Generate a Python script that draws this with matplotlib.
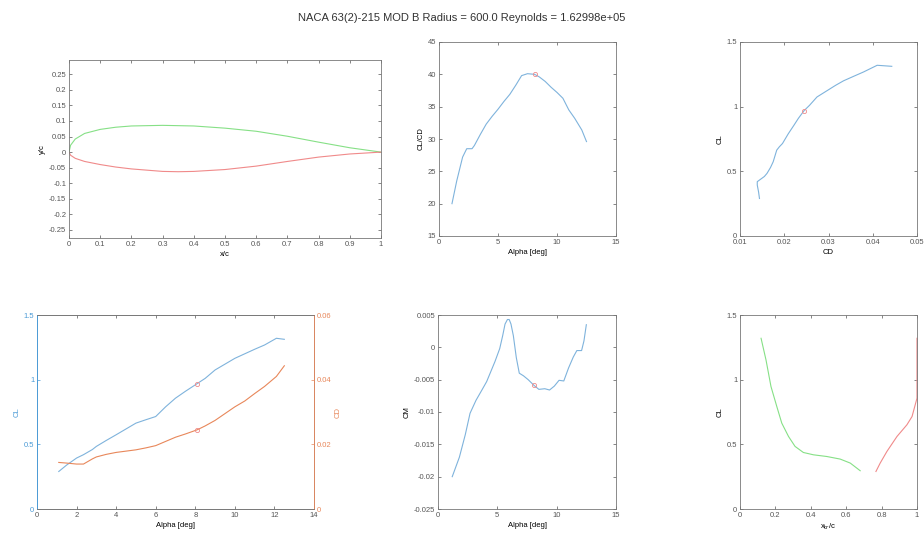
import numpy as np
import matplotlib
matplotlib.use("Agg")
import matplotlib.pyplot as plt

plt.rcParams['font.family'] = ['Liberation Sans', 'DejaVu Sans']

# airfoil shape
x_up = [0.0, 0.005, 0.02, 0.05, 0.1, 0.15, 0.2, 0.3, 0.4, 0.5, 0.6, 0.7, 0.8, 0.9, 1.0]
y_up = [0.0, 0.022, 0.042, 0.060, 0.073, 0.080, 0.084, 0.086, 0.084, 0.077, 0.067, 0.051, 0.032, 0.014, 0.0]
x_lo = [0.0, 0.005, 0.02, 0.05, 0.1, 0.15, 0.2, 0.3, 0.35, 0.4, 0.5, 0.6, 0.7, 0.8, 0.9, 1.0]
y_lo = [0.0, -0.010, -0.020, -0.030, -0.040, -0.048, -0.054, -0.062, -0.063, -0.062, -0.056, -0.045, -0.030, -0.016, -0.006, 0.0]

# polar data
alpha = [1.1, 1.5, 2.0, 2.35, 2.8, 3.0, 3.5, 4.0, 4.5, 5.0, 5.5, 6.0, 6.5, 7.0, 7.5, 8.1,
         8.5, 9.0, 9.5, 10.0, 10.5, 11.0, 11.5, 12.1, 12.5]
cl = [0.29, 0.34, 0.394, 0.42, 0.46, 0.484, 0.53, 0.574, 0.619, 0.664, 0.69, 0.715, 0.79, 0.857,
      0.91, 0.97, 1.01, 1.075, 1.12, 1.165, 1.20, 1.235, 1.268, 1.32, 1.312]
cd = [0.0144, 0.0142, 0.0139, 0.0139, 0.0155, 0.0161, 0.0169, 0.0175, 0.0179, 0.0183, 0.0189, 0.0196,
      0.0209, 0.0222, 0.0232, 0.0245, 0.0257, 0.0274, 0.0295, 0.0316, 0.0334, 0.0357, 0.0379, 0.0410, 0.0443]
clcd = [20.0, 23.5, 27.2, 28.5, 28.5, 29.0, 30.7, 32.3, 33.5, 34.6, 35.8, 36.9, 38.3, 39.8, 40.1,
        40.0, 39.6, 38.9, 38.0, 37.2, 36.3, 34.5, 33.2, 31.4, 29.6]
alpha_cm = [1.2, 1.8, 2.3, 2.7, 3.2, 3.7, 4.1, 4.8, 5.2, 5.45, 5.65, 5.85, 6.0, 6.15, 6.35, 6.6, 6.85, 7.2,
            7.6, 8.1, 8.5, 9.0, 9.4, 9.8, 10.2, 10.6, 11.0, 11.4, 11.7, 12.1, 12.3, 12.5]
cm = [-0.0200, -0.0170, -0.0135, -0.0102, -0.0082, -0.0066, -0.0053, -0.0022, -0.0002, 0.0018,
      0.0036, 0.0043, 0.0043, 0.0036, 0.0018, -0.0016, -0.0040, -0.0044, -0.0050, -0.0059,
      -0.0065, -0.0064, -0.0066, -0.0060, -0.0051, -0.0052, -0.0032, -0.0015, -0.0005, -0.0005,
      0.0010, 0.0035]

# transition location
xtr_up = [0.119, 0.147, 0.175, 0.208, 0.236, 0.274, 0.311, 0.358, 0.415, 0.49, 0.566, 0.623, 0.679]
cl_up = [1.32, 1.152, 0.947, 0.792, 0.664, 0.561, 0.484, 0.437, 0.419, 0.406, 0.386, 0.355, 0.296]
xtr_lo = [0.768, 0.792, 0.83, 0.887, 0.943, 0.972, 1.0, 1.0]
cl_lo = [0.29, 0.355, 0.445, 0.561, 0.651, 0.715, 0.857, 1.32]

# operating point
op_alpha, op_cl, op_cd, op_clcd, op_cm = 8.1, 0.97, 0.0245, 40.0, -0.0059

BLUE = '#7fb3dc'
RED = '#f08a8a'
GREEN = '#86e086'
AX = '#777777'
FS = 5.5

W, H = 924, 537


def box(x0, y0, x1, y1):
    return [x0 / W, (H - y1) / H, (x1 - x0) / W, (y1 - y0) / H]


def style(ax, right=True):
    for s in ax.spines.values():
        s.set_color(AX)
        s.set_linewidth(0.6)
    ax.tick_params(direction='in', length=2.5, width=0.5, labelsize=FS, colors='#555555',
                   top=True, right=right, pad=2)


fig = plt.figure(figsize=(9.24, 5.37), dpi=100)
fig.text(0.5, 1 - 18 / H, 'NACA 63(2)-215 MOD B Radius = 600.0 Reynolds = 1.62998e+05',
         ha='center', va='center', fontsize=8, color='#333333')

# airfoil
ax1 = fig.add_axes(box(69, 60, 381, 238))
ax1.plot(x_up, y_up, color=GREEN, lw=0.8)
ax1.plot(x_lo, y_lo, color=RED, lw=0.8)
ax1.set_xlim(0, 1)
ax1.set_ylim(-0.276, 0.296)
ax1.set_xticks(np.arange(0, 1.01, 0.1))
ax1.set_xticklabels(['0', '0.1', '0.2', '0.3', '0.4', '0.5', '0.6', '0.7', '0.8', '0.9', '1'])
ax1.set_yticks(np.arange(-0.25, 0.26, 0.05))
ax1.set_yticklabels(['-0.25', '-0.2', '-0.15', '-0.1', '-0.05', '0', '0.05', '0.1', '0.15', '0.2', '0.25'])
ax1.set_xlabel('x/c', fontsize=FS, labelpad=2)
ax1.set_ylabel('y/c', fontsize=FS, labelpad=2)
style(ax1)

# CL/CD
ax2 = fig.add_axes(box(439, 42, 616, 236))
ax2.plot(alpha, clcd, color=BLUE, lw=0.8)
ax2.plot(op_alpha, op_clcd, 'o', mfc='none', mec=RED, ms=3, mew=0.6)
ax2.set_xlim(0, 15)
ax2.set_ylim(15, 45)
ax2.set_xticks([0, 5, 10, 15])
ax2.set_yticks([15, 20, 25, 30, 35, 40, 45])
ax2.set_xlabel('Alpha [deg]', fontsize=FS, labelpad=2)
ax2.set_ylabel('CL/CD', fontsize=FS, labelpad=2)
style(ax2)

# CL vs CD
ax3 = fig.add_axes(box(740, 42, 917, 236))
ax3.plot(cd, cl, color=BLUE, lw=0.8)
ax3.plot(op_cd, op_cl, 'o', mfc='none', mec=RED, ms=3, mew=0.6)
ax3.set_xlim(0.01, 0.05)
ax3.set_ylim(0, 1.5)
ax3.set_xticks([0.01, 0.02, 0.03, 0.04, 0.05])
ax3.set_yticks([0, 0.5, 1, 1.5])
ax3.set_yticklabels(['0', '0.5', '1', '1.5'])
ax3.set_xlabel('CD', fontsize=FS, labelpad=2)
ax3.set_ylabel('CL', fontsize=FS, labelpad=2)
style(ax3)

# CL and CD vs alpha
LBLUE = '#4a9ad6'
LORNG = '#e8875a'
ax4 = fig.add_axes(box(37, 315, 314, 509))
ax4.plot(alpha, cl, color=BLUE, lw=0.8)
ax4.plot(op_alpha, op_cl, 'o', mfc='none', mec=RED, ms=3, mew=0.6)
ax4.set_xlim(0, 14)
ax4.set_ylim(0, 1.5)
ax4.set_xticks(range(0, 15, 2))
ax4.set_yticks([0, 0.5, 1, 1.5])
ax4.set_yticklabels(['0', '0.5', '1', '1.5'])
ax4.set_xlabel('Alpha [deg]', fontsize=FS, labelpad=2)
ax4.set_ylabel('CL', fontsize=FS, labelpad=2, color=LBLUE)
style(ax4, right=False)
ax4.tick_params(axis='y', colors=LBLUE)
ax4.spines['left'].set_color(LBLUE)
ax4b = ax4.twinx()
ax4b.plot(alpha, cd, color=LORNG, lw=0.8)
ax4b.plot(op_alpha, op_cd, 'o', mfc='none', mec=RED, ms=3, mew=0.6)
ax4b.set_ylim(0, 0.06)
ax4b.set_yticks([0, 0.02, 0.04, 0.06])
ax4b.set_yticklabels(['0', '0.02', '0.04', '0.06'])
ax4b.set_ylabel('CD', fontsize=FS, labelpad=2, color=LORNG)
for s in ax4b.spines.values():
    s.set_linewidth(0.6)
    s.set_color(AX)
ax4b.spines['left'].set_color(LBLUE)
ax4b.spines['right'].set_color(LORNG)
ax4b.tick_params(direction='in', length=2.5, width=0.5, labelsize=FS, colors=LORNG, pad=2)

# CM
ax5 = fig.add_axes(box(438, 315, 616, 509))
ax5.plot(alpha_cm, cm, color=BLUE, lw=0.8)
ax5.plot(op_alpha, op_cm, 'o', mfc='none', mec=RED, ms=3, mew=0.6)
ax5.set_xlim(0, 15)
ax5.set_ylim(-0.025, 0.005)
ax5.set_xticks([0, 5, 10, 15])
ax5.set_yticks([-0.025, -0.02, -0.015, -0.01, -0.005, 0, 0.005])
ax5.set_yticklabels(['-0.025', '-0.02', '-0.015', '-0.01', '-0.005', '0', '0.005'])
ax5.set_xlabel('Alpha [deg]', fontsize=FS, labelpad=2)
ax5.set_ylabel('CM', fontsize=FS, labelpad=2)
style(ax5)

# transition
ax6 = fig.add_axes(box(740, 315, 917, 509))
ax6.plot(xtr_up, cl_up, color=GREEN, lw=0.8)
ax6.plot(xtr_lo, cl_lo, color=RED, lw=0.8, clip_on=False)
ax6.set_xlim(0, 1)
ax6.set_ylim(0, 1.5)
ax6.set_xticks([0, 0.2, 0.4, 0.6, 0.8, 1])
ax6.set_xticklabels(['0', '0.2', '0.4', '0.6', '0.8', '1'])
ax6.set_yticks([0, 0.5, 1, 1.5])
ax6.set_yticklabels(['0', '0.5', '1', '1.5'])
ax6.set_xlabel(r'x$_{\mathrm{tr}}$/c', fontsize=FS, labelpad=2)
ax6.set_ylabel('CL', fontsize=FS, labelpad=2)
style(ax6)

fig.savefig('out.png', dpi=100)
